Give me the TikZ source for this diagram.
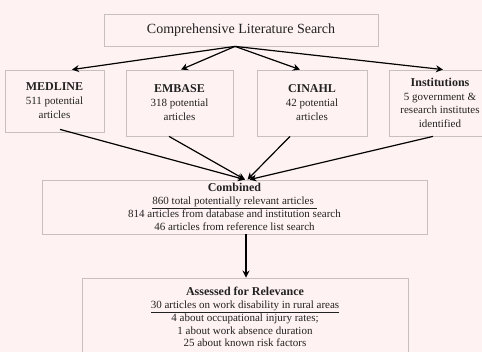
\documentclass[tikz,border=0pt]{standalone}
\usepackage{fontspec}
\setmainfont{Liberation Serif}
\usepackage{xcolor}
\usetikzlibrary{positioning,arrows.meta}

\definecolor{bgpink}{HTML}{FFF2F2}
\definecolor{boxgray}{HTML}{C8BFBF}
\definecolor{inkdark}{HTML}{222222}

\newcommand{\hd}[1]{{\fontsize{12}{14}\selectfont\textbf{#1}}}

\tikzset{
  srcbox/.style={draw=boxgray, line width=0.8pt, inner sep=0pt, align=center,
    text=inkdark, font=\fontsize{11}{14}\selectfont},
  flowarrow/.style={-{Stealth[length=7pt,width=7pt]}, line width=1.2pt, black}
}

\begin{document}
\begin{tikzpicture}[x=1pt,y=-1pt]
\fill[bgpink] (0,0) rectangle (482,352);
\useasboundingbox (0,0) rectangle (482,352);

\node[srcbox, minimum width=274pt, minimum height=32pt, font=\fontsize{14}{16}\selectfont] (lit) at (241,30) {Comprehensive Literature Search};

\node[srcbox, minimum width=99pt, minimum height=62pt] (med) at (54.5,101)
  {\hd{MEDLINE}\\511 potential\\articles};
\node[srcbox, minimum width=107pt, minimum height=66pt] (emb) at (179.5,103)
  {\hd{EMBASE}\\318 potential\\articles};
\node[srcbox, minimum width=110pt, minimum height=66pt] (cin) at (312,103)
  {\hd{CINAHL}\\42 potential\\articles};
\node[srcbox, minimum width=102pt, minimum height=66pt, font=\fontsize{11}{13.5}\selectfont] (inst) at (440,103)
  {\hd{Institutions}\\5 government \&\\research institutes\\identified};

\node[srcbox, minimum width=385pt, minimum height=54pt, font=\fontsize{11}{12.5}\selectfont] (comb) at (234.5,207)
  {\hd{Combined}\\\underline{860 total potentially relevant articles }\\[1pt]814 articles from database and institution search\\46 articles from reference list search};

\node[srcbox, minimum width=326pt, minimum height=78pt, font=\fontsize{11}{12.5}\selectfont] (rel) at (245,317)
  {\hd{Assessed for Relevance}\\\underline{30 articles on work disability in rural areas}\\[1pt]4 about occupational injury rates;\\1 about work absence duration\\25 about known risk factors};

% search to sources
\draw[flowarrow] ([xshift=-6pt]lit.south) -- ([xshift=17.5pt]med.north);
\draw[flowarrow] ([xshift=-6pt]lit.south) -- ([xshift=1.5pt]emb.north);
\draw[flowarrow] ([xshift=-6pt]lit.south) -- ([xshift=-12pt]cin.north);
\draw[flowarrow] ([xshift=-6pt]lit.south) -- ([xshift=3pt]inst.north);

% sources to combined
\draw[flowarrow] ([xshift=5.5pt,yshift=3pt]med.south) -- ([xshift=10.5pt]comb.north);
\draw[flowarrow] ([xshift=-10.5pt]emb.south) -- ([xshift=10.5pt]comb.north);
\draw[flowarrow] ([xshift=-22pt]cin.south) -- ([xshift=13pt]comb.north);
\draw[flowarrow] ([xshift=-7pt]inst.south) -- ([xshift=15pt]comb.north);

\draw[flowarrow] ([xshift=11.5pt]comb.south) -- ([xshift=1pt]rel.north);
\end{tikzpicture}
\end{document}
